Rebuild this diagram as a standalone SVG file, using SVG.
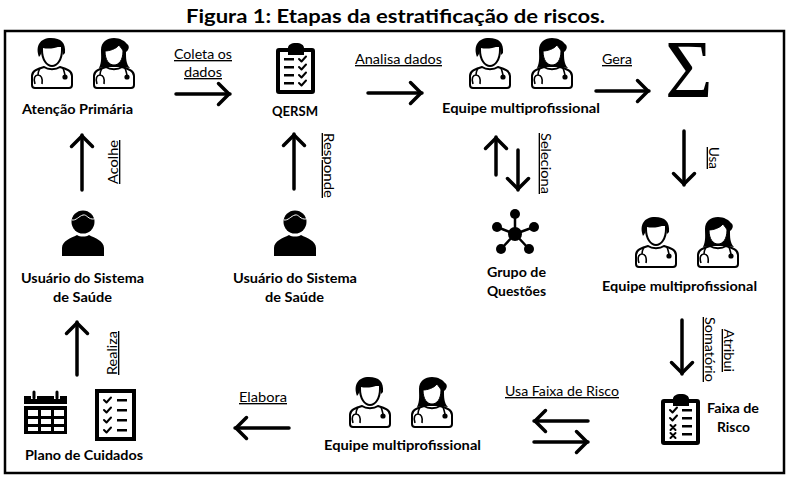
<svg xmlns="http://www.w3.org/2000/svg" width="789" height="480" viewBox="0 0 789 480">
<style>
text{font-family:Lato,"Noto Sans","Liberation Sans",sans-serif;fill:#000}
.b{font-weight:700;font-size:13.500px}
.l{font-size:13.500px;text-decoration:underline}
.t{font-weight:700;font-size:19px}
.a{fill:none;stroke:#000;stroke-width:3.5;stroke-linecap:round;marker-end:url(#h)}
.o{fill:#fff;stroke:#000;stroke-width:2}
.k{fill:#000}
.w{fill:none;stroke:#fff;stroke-width:2;stroke-linecap:round;stroke-linejoin:round}
.s{fill:none;stroke:#000;stroke-width:1.6}
.c{fill:none;stroke:#000;stroke-width:2;stroke-linecap:round;stroke-linejoin:round}
</style>
<defs>
<marker id="h" markerUnits="userSpaceOnUse" markerWidth="20" markerHeight="28" refX="14" refY="14" orient="auto"><path d="M2.500 3.500 L13 14 L2.500 24.500" fill="none" stroke="#000" stroke-width="3.500" stroke-linecap="round" stroke-linejoin="round"/></marker>
<g id="male">
<path class="o" d="M-20 47V38C-20 33 -15 31 -8 29C-4 32 4 32 8 29C15 31 20 33 20 38V47C20 49 19 50 17 50H-17C-19 50 -20 49 -20 47Z"/>
<path class="o" d="M-10 12C-10 22 -5 28 0 28C5 28 10 22 10 12V8H-10Z"/>
<path class="k" d="M-13 19C-17 8 -12 0 -1 0C9 0 14 5 13 15L11 17C11 12 10 10 8 8C2 11 -5 11 -9 10C-10 13 -11 17 -13 19Z"/>
<path class="s" d="M-12 30C-14 34 -14 36 -14 37M-17 46C-19 40 -17 37 -14 37C-11 37 -9 40 -10 46M11 30C12 33 13 36 13 38"/>
<circle class="k" cx="13" cy="39" r="2.600"/>
</g>
<g id="female">
<path class="o" d="M-20 47V38C-20 33 -15 31 -8 29C-4 32 4 32 8 29C15 31 20 33 20 38V47C20 49 19 50 17 50H-17C-19 50 -20 49 -20 47Z"/>
<path class="k" d="M-15 30C-12 24 -13 18 -13 12C-13 4 -7 0 0 0C6 0 11 3 13 6C16 8 15 12 12 14C12 20 12 26 16 30L8 29H-8Z"/>
<path class="o" style="stroke-width:1" d="M-9 13C-5 13 2 11 5 7C7 10 9 12 9 13C9 22 5 27 0 27C-5 27 -9 22 -9 13Z"/>
<path class="s" d="M-12 30C-14 34 -14 36 -14 37M-17 46C-19 40 -17 37 -14 37C-11 37 -9 40 -10 46M11 30C12 33 13 36 13 38"/>
<circle class="k" cx="13" cy="39" r="2.600"/>
</g>
<g id="person">
<circle class="k" cx="0" cy="12" r="11.500"/>
<path class="k" d="M-21 46V38C-21 31 -12 28 -6 25C-3 27 3 27 6 25C12 28 21 31 21 38V46Z"/>
<path class="w" style="stroke-width:1" d="M-11 10C-7 11 -4 6 0 5C4 4 5 10 11 9"/>
</g>
<path id="board" class="k" fill-rule="evenodd" d="M3 5H12C12 2 15 0 20 0C25 0 28 2 28 5H36C38 5 39 6 39 8V48C39 50 38 51 36 51H3C1 51 0 50 0 48V8C0 6 1 5 3 5ZM4 9V47H35V9H28V12H12V9Z"/>
</defs>
<rect x="5" y="31" width="779" height="442" fill="none" stroke="#000" stroke-width="2.500"/>
<text id="title" class="t" x="186" y="23" textLength="419" lengthAdjust="spacingAndGlyphs">Figura 1: Etapas da estratificação de riscos.</text>
<g id="connectors">
<path class="a" d="M176 94H230"/>
<path class="a" d="M368 93H422"/>
<path class="a" d="M596 91H649"/>
<path class="a" d="M684 131V185"/>
<path class="a" d="M682 320V374"/>
<path class="a" d="M588 421H534"/>
<path class="a" d="M534 442H588"/>
<path class="a" d="M289 428H235"/>
<path class="a" d="M77 375V322"/>
<path class="a" d="M82 190V135"/>
<path class="a" d="M294 189V134"/>
<path class="a" d="M496 175V137"/>
<path class="a" d="M518 150V190"/>
<text class="l" x="174" y="59" textLength="58" lengthAdjust="spacingAndGlyphs">Coleta os</text>
<text class="l" x="184" y="77" textLength="38" lengthAdjust="spacingAndGlyphs">dados</text>
<text class="l" x="355" y="64" textLength="87" lengthAdjust="spacingAndGlyphs">Analisa dados</text>
<text class="l" x="602" y="64" textLength="30" lengthAdjust="spacingAndGlyphs">Gera</text>
<text class="l" transform="translate(709 147) rotate(90)" textLength="22" lengthAdjust="spacingAndGlyphs">Usa</text>
<text class="l" transform="translate(541 133) rotate(90)" textLength="61" lengthAdjust="spacingAndGlyphs">Seleciona</text>
<text class="l" transform="translate(324 133) rotate(90)" textLength="65" lengthAdjust="spacingAndGlyphs">Responde</text>
<text class="l" transform="translate(118 184) rotate(-90)" textLength="44" lengthAdjust="spacingAndGlyphs">Acolhe</text>
<text class="l" transform="translate(117 375) rotate(-90)" textLength="44" lengthAdjust="spacingAndGlyphs">Realiza</text>
<text class="l" transform="translate(724 329) rotate(90)" textLength="43" lengthAdjust="spacingAndGlyphs">Atribui</text>
<text class="l" transform="translate(705 317) rotate(90)" textLength="65" lengthAdjust="spacingAndGlyphs">Somatório</text>
<text class="l" x="505" y="396" textLength="114" lengthAdjust="spacingAndGlyphs">Usa Faixa de Risco</text>
<text class="l" x="239" y="402" textLength="48" lengthAdjust="spacingAndGlyphs">Elabora</text>
</g>
<g id="atencao-primaria">
<use href="#male" x="52" y="38"/><use href="#female" x="114" y="38"/>
<text class="b" x="22" y="114" textLength="111" lengthAdjust="spacingAndGlyphs">Atenção Primária</text>
</g>
<g id="qersm">
<use href="#board" x="276" y="43"/>
<rect class="k" x="284" y="58" width="10" height="2.500"/><rect class="k" x="284" y="66" width="10" height="2.500"/><rect class="k" x="284" y="74" width="10" height="2.500"/><rect class="k" x="284" y="82" width="10" height="2.500"/>
<path class="c" d="M299 59l2.500 2.500 4.500-5M299 67l2.500 2.500 4.500-5M299 75l2.500 2.500 4.500-5M299 83l2.500 2.500 4.500-5"/>
<text class="b" x="272" y="116" textLength="46" lengthAdjust="spacingAndGlyphs">QERSM</text>
</g>
<g id="equipe-1">
<use href="#male" x="490" y="38"/><use href="#female" x="552" y="38"/>
<text class="b" x="442" y="113" textLength="158" lengthAdjust="spacingAndGlyphs">Equipe multiprofissional</text>
</g>
<g id="somatorio">
<text x="665" y="97" style="font-family:'Liberation Serif',serif;font-size:82px">Σ</text>
</g>
<g id="equipe-2">
<use href="#male" x="656" y="217"/><use href="#female" x="718" y="217"/>
<text class="b" x="602" y="291" textLength="155" lengthAdjust="spacingAndGlyphs">Equipe multiprofissional</text>
</g>
<g id="grupo-questoes">
<path class="c" style="stroke-width:2.500" d="M515 234L515 214M515 234L534 227M515 234L497 227M515 234L501 249M515 234L529 249"/>
<circle class="k" cx="515" cy="234" r="7"/><circle class="k" cx="515" cy="214" r="5"/><circle class="k" cx="534" cy="227" r="5"/><circle class="k" cx="497" cy="227" r="5"/><circle class="k" cx="501" cy="249" r="5"/><circle class="k" cx="529" cy="249" r="5"/>
<text class="b" x="487" y="277" textLength="59" lengthAdjust="spacingAndGlyphs">Grupo de</text>
<text class="b" x="487" y="296" textLength="59" lengthAdjust="spacingAndGlyphs">Questões</text>
</g>
<g id="usuario-2">
<use href="#person" x="295" y="210"/>
<text class="b" x="233" y="283" textLength="124" lengthAdjust="spacingAndGlyphs">Usuário do Sistema</text>
<text class="b" x="265" y="302" textLength="59" lengthAdjust="spacingAndGlyphs">de Saúde</text>
</g>
<g id="usuario-1">
<use href="#person" x="83" y="210"/>
<text class="b" x="21" y="283" textLength="123" lengthAdjust="spacingAndGlyphs">Usuário do Sistema</text>
<text class="b" x="53" y="302" textLength="59" lengthAdjust="spacingAndGlyphs">de Saúde</text>
</g>
<g id="faixa-risco">
<use href="#board" x="661" y="394"/>
<rect class="k" x="682" y="409" width="10" height="2.500"/><rect class="k" x="682" y="417" width="10" height="2.500"/><rect class="k" x="682" y="425" width="10" height="2.500"/><rect class="k" x="682" y="433" width="10" height="2.500"/>
<path class="c" d="M670 410l2.500 2.500 4.500-5M670 418l2.500 2.500 4.500-5M670.500 425l5 5M675.500 425l-5 5M670.500 433l5 5M675.500 433l-5 5"/>
<text class="b" x="707" y="413" textLength="52" lengthAdjust="spacingAndGlyphs">Faixa de</text>
<text class="b" x="717" y="432" textLength="33" lengthAdjust="spacingAndGlyphs">Risco</text>
</g>
<g id="equipe-3">
<use href="#male" x="370" y="377"/><use href="#female" x="432" y="377"/>
<text class="b" x="324" y="450" textLength="157" lengthAdjust="spacingAndGlyphs">Equipe multiprofissional</text>
</g>
<g id="plano-cuidados">
<path class="k" d="M24 396H31V399H37V396H54V399H60V396H67V404H24Z"/>
<path class="c" style="stroke-width:3" d="M34 392V398M57 392V398"/>
<path class="k" fill-rule="evenodd" d="M24 406H67V434H24ZM28 410V416H38V410ZM41 410V416H51V410ZM54 410V416H64V410ZM28 419V424H38V419ZM41 419V424H51V419ZM54 419V424H64V419ZM28 427V431H38V427ZM41 427V431H51V427ZM54 427V431H64V427Z"/>
<rect x="97" y="391" width="37" height="48" fill="#fff" stroke="#000" stroke-width="4"/>
<path class="c" d="M104 400l2.500 2.500 4.500-5M104 410l2.500 2.500 4.500-5M104 420l2.500 2.500 4.500-5M104 430l2.500 2.500 4.500-5"/>
<rect class="k" x="117" y="399" width="10" height="2.500"/><rect class="k" x="117" y="409" width="10" height="2.500"/><rect class="k" x="117" y="419" width="10" height="2.500"/><rect class="k" x="117" y="429" width="10" height="2.500"/>
<text class="b" x="25" y="460" textLength="118" lengthAdjust="spacingAndGlyphs">Plano de Cuidados</text>
</g>
</svg>
